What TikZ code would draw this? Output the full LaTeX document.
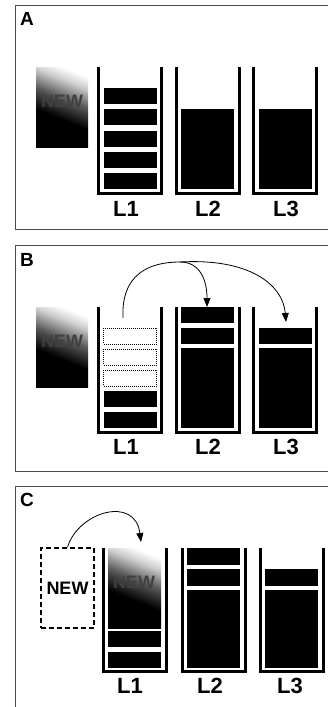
\documentclass[tikz,border=0pt]{standalone}
\usepackage{fontspec}
\setmainfont{Liberation Sans}
\usetikzlibrary{arrows.meta}
\pgfdeclareverticalshading{newshade}{100bp}{color(0bp)=(black); color(42bp)=(black); color(56bp)=(black!65); color(68bp)=(black!20); color(76bp)=(white); color(100bp)=(white)}
\newcommand{\beaker}[3]{\draw[wall] (#1-31.5,#2) -- (#1-31.5,#3) -- (#1+31.5,#3) -- (#1+31.5,#2);}
\newcommand{\blk}[3]{\fill[black] (#1-26.5,#2) rectangle (#1+26.5,#3);}
\newcommand{\ghost}[3]{\draw[ghoststyle] (#1-26.5,#2) rectangle (#1+26.5,#3);}
\newcommand{\newgrad}[4]{\shade[shading=newshade, shading angle=-22] (#1,#2) rectangle (#3,#4);}
\begin{document}
\begin{tikzpicture}[x=1pt,y=-1pt,
  wall/.style={line width=3pt, line join=miter, line cap=butt},
  frame/.style={line width=0.9pt, black!70},
  lab/.style={font=\bfseries\fontsize{22}{22}\selectfont, inner sep=0pt},
  panellab/.style={font=\bfseries\fontsize{19}{19}\selectfont, inner sep=0pt},
  ghoststyle/.style={line width=0.6pt, dash pattern=on 1pt off 1pt},
  arr/.style={line width=0.8pt, -{Triangle[length=9pt,width=7pt]}},
  newtext/.style={font=\bfseries\fontsize{18}{18}\selectfont, inner sep=0pt}]
\useasboundingbox (0,0) rectangle (328,707);
\fill[white] (0,0) rectangle (328,707);

% ---------- Panel A ----------
\draw[frame] (328,5) -- (15,5) -- (15,229) -- (328,229);
\node[panellab] (pa) at (27,19) {A};
\newgrad{36}{67}{88}{147}
\node[newtext, text=black!75] (newa) at (62,101) {NEW};
\beaker{130}{67}{193.5}
\beaker{207.5}{67}{193.5}
\beaker{285}{67}{193.5}
\blk{130}{88}{104}
\blk{130}{109}{125}
\blk{130}{131}{147}
\blk{130}{152}{168}
\blk{130}{173}{189}
\blk{207.5}{109}{189}
\blk{285}{109}{189}
\node[lab] (a1) at (126,209) {L1};
\node[lab] (a2) at (208,209) {L2};
\node[lab] (a3) at (286,209) {L3};

% ---------- Panel B ----------
\draw[frame] (328,245) -- (15,245) -- (15,471) -- (328,471);
\node[panellab] (pb) at (27,260) {B};
\newgrad{36}{307}{88}{387}
\node[newtext, text=black!75] (newb) at (62,341) {NEW};
\beaker{130}{307}{432.5}
\beaker{207.5}{307}{432.5}
\beaker{285}{307}{432.5}
\ghost{130}{328}{344}
\ghost{130}{349}{365}
\ghost{130}{370}{386}
\blk{130}{391}{407}
\blk{130}{412}{428}
\blk{207.5}{307}{323}
\blk{207.5}{328}{344}
\blk{207.5}{348}{428}
\blk{285}{328}{344}
\blk{285}{348}{428}
\node[lab] (b1) at (126,447) {L1};
\node[lab] (b2) at (208,447) {L2};
\node[lab] (b3) at (286,447) {L3};
\coordinate (bs) at (123,318);
\coordinate (bapex) at (180,262);
\coordinate (bt2) at (207,307);
\coordinate (bt3) at (286,322);
\draw[line width=0.8pt] (bs) .. controls (121,275) and (148,262) .. (bapex);
\draw[arr] (bapex) .. controls (200,262) and (207,280) .. (bt2);
\draw[arr] (bapex) .. controls (250,258) and (283,285) .. (bt3);

% ---------- Panel C ----------
\draw[frame] (328,486) -- (15,486) -- (15,707);
\node[panellab] (pc) at (27,500) {C};
\node[draw, line width=1.5pt, dash pattern=on 5pt off 3pt, minimum width=53pt, minimum height=80pt, inner sep=0pt, newtext] (newc) at (67.5,588) {NEW};
\newgrad{108}{548}{161}{628}
\node[newtext, text=black!75] (newc2) at (134,582) {NEW};
\beaker{134.5}{548}{671.5}
\beaker{213.75}{548}{671.5}
\beaker{291.5}{548}{671.5}
\blk{134.5}{631}{647}
\blk{134.5}{652}{668}
\blk{213.75}{548}{565}
\blk{213.75}{569}{586}
\blk{213.75}{590}{668}
\blk{291.5}{569}{586}
\blk{291.5}{590}{668}
\node[lab] (c1) at (130,686) {L1};
\node[lab] (c2) at (210,686) {L2};
\node[lab] (c3) at (290,686) {L3};
\coordinate (ct) at (141,542);
\draw[arr] (newc.north) .. controls (78,512) and (135,495) .. (ct);
\end{tikzpicture}
\end{document}
